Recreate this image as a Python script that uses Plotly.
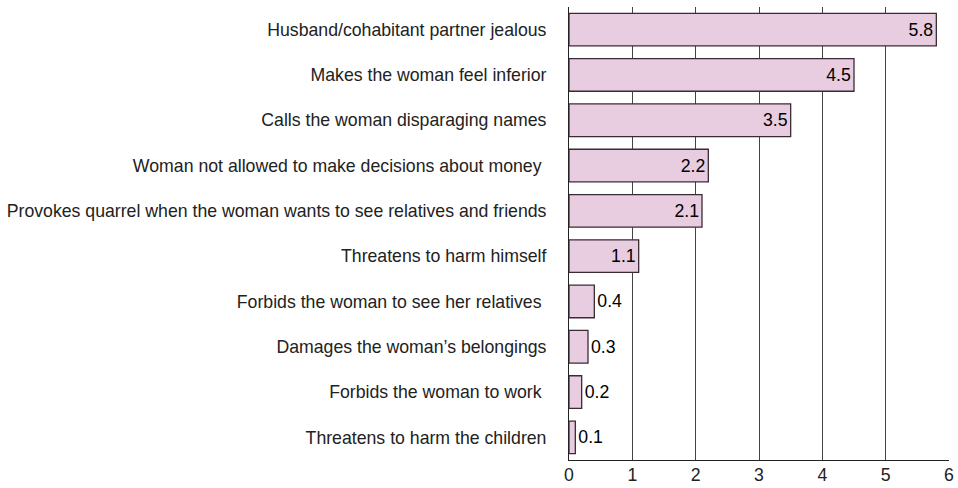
import plotly.graph_objects as go

categories = [
    "Husband/cohabitant partner jealous",
    "Makes the woman feel inferior",
    "Calls the woman disparaging names",
    "Woman not allowed to make decisions about money\u00a0",
    "Provokes quarrel when the woman wants to see relatives and friends",
    "Threatens to harm himself",
    "Forbids the woman to see her relatives\u00a0",
    "Damages the woman\u2019s belongings",
    "Forbids the woman to work\u00a0",
    "Threatens to harm the children",
]
values = [5.8, 4.5, 3.5, 2.2, 2.1, 1.1, 0.4, 0.3, 0.2, 0.1]
labels = [f"{v:.1f}" for v in values]

FS = 17.7
text_pos = ["inside" if v >= 1 else "outside" for v in values]

fig = go.Figure(go.Bar(
    x=values, y=categories, orientation="h",
    text=labels, textposition=text_pos, insidetextanchor="end",
    textangle=0,
    textfont=dict(family="Liberation Sans, Arial", size=FS, color="black"),
    insidetextfont=dict(color="black", size=FS), outsidetextfont=dict(color="black", size=FS),
    marker=dict(color="#E8CDE1", line=dict(color="#3b2b33", width=1.3)),
    cliponaxis=False,
))

fig.update_layout(
    width=958, height=488,
    margin=dict(l=569, r=9, t=7, b=28, autoexpand=False),
    plot_bgcolor="white", paper_bgcolor="white",
    bargap=0.28, showlegend=False,
    font=dict(family="Liberation Sans, Arial", size=FS, color="#222"),
)
fig.update_xaxes(
    range=[0, 6], dtick=1, showgrid=True, gridcolor="#444", gridwidth=1,
    showline=True, linecolor="#222", linewidth=1, zeroline=False,
    ticks="", ticklabelstandoff=-1, automargin=False,
    tickfont=dict(size=FS, color="#222"), fixedrange=True,
)
fig.update_yaxes(
    autorange="reversed", showline=True, linecolor="#222", linewidth=1,
    ticks="outside", ticklen=18, tickcolor="rgba(0,0,0,0)", automargin=False,
    tickfont=dict(size=FS, color="#222"), fixedrange=True,
)
fig.write_html("out.html", config={"displayModeBar": False},
               post_script="document.body.style.margin='0';")
